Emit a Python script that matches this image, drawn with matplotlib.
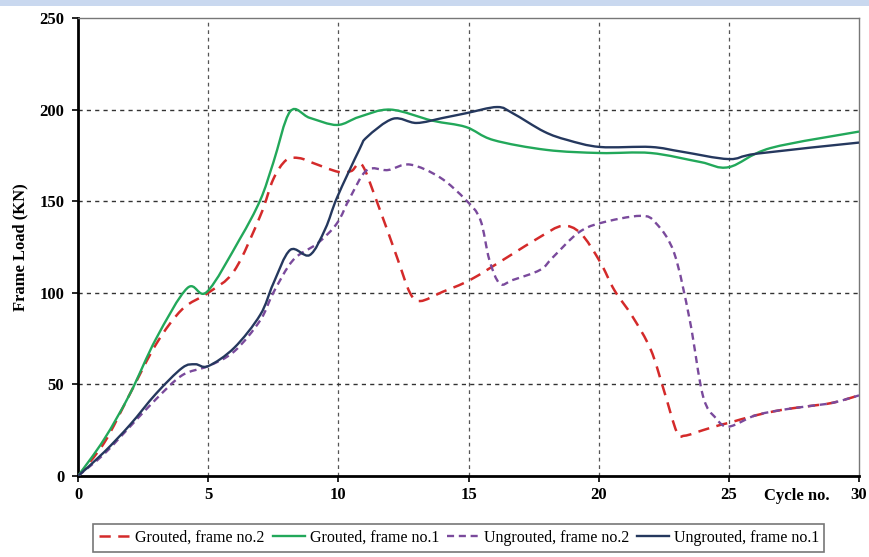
import matplotlib
matplotlib.use("Agg")
import matplotlib.pyplot as plt
from matplotlib.patches import Rectangle, PathPatch
from matplotlib.path import Path
from matplotlib.lines import Line2D

# Cycle number / frame load (kN) readings for each test specimen
grouted_2_x = [0, 1, 2, 3, 4, 5, 6, 7, 7.5, 8, 8.5, 9, 10, 10.5, 10.9, 11.5, 12.25, 12.75,
               13.15, 14.0, 15.06, 16.5, 17.75, 18.6, 19.3, 20.05, 20.6, 21.3, 22, 22.5,
               23, 23.3, 24, 24.7, 25, 26, 27, 28, 29, 30]
grouted_2_y = [0, 18, 45, 72, 91, 100, 112, 142, 162, 172.5, 173.5, 171, 166, 166.5, 170,
               149, 119.5, 100, 95.5, 100.5, 107, 119.5, 130.5, 136.5, 132.6, 117, 101.5,
               87, 69, 47, 24, 22, 25, 28, 29, 33, 36, 38, 40, 44]

grouted_1_x = [0, 1, 2, 3, 4.2, 4.95, 6.2, 7.0, 7.5, 8.15, 8.9, 9.95, 10.8, 12, 13.6, 14.9,
               15.95, 18, 20.05, 22, 23.9, 25, 26.6, 30]
grouted_1_y = [0, 20, 45, 75, 102.6, 100.5, 129, 150.6, 171, 199, 195.5, 191.6, 196, 200,
               194, 190.5, 183.4, 178, 176.3, 176.3, 171.4, 168.6, 179, 188]

ungrouted_2_x = [0, 1, 2, 3, 4, 5, 6, 7, 7.5, 8.27, 9.2, 9.95, 10.45, 11.1, 11.9, 12.75,
                 13.9, 14.9, 15.45, 15.8, 16.2, 16.7, 17.75, 18.25, 19.2, 20.05, 21.6, 22.2,
                 22.9, 23.5, 24, 24.5, 25, 26, 27, 28, 29, 30]
ungrouted_2_y = [0, 12, 27, 42, 55, 60, 68, 85, 100, 118, 127, 138, 152, 167, 167, 170,
                 163, 150.6, 140, 118, 105, 107, 112.5, 119.5, 132.6, 138, 142, 138,
                 121.7, 85, 44, 31.6, 27, 33, 36, 38, 40, 44]

ungrouted_1_x = [0, 1, 2, 3, 4, 4.5, 5, 6, 7, 7.5, 8.15, 8.9, 9.5, 9.95, 10.8, 11.1, 12.1,
                 13.0, 14.0, 14.9, 16.1, 16.7, 17.9, 18.8, 20.05, 22, 23.2, 25, 26.1, 30]
ungrouted_1_y = [0, 13, 28, 45, 59, 61, 60, 70, 88, 105, 123.4, 120.6, 135, 152, 178, 185,
                 195, 192.7, 195.4, 198, 201.4, 198, 188, 183.4, 179.6, 179.6, 177, 173,
                 176, 182]

series_labels = ["Grouted, frame no.2", "Grouted, frame no.1",
                 "Ungrouted, frame no.2", "Ungrouted, frame no.1"]
x_ticks = [0, 5, 10, 15, 20, 25, 30]
y_ticks = [0, 50, 100, 150, 200, 250]


def smooth_path(xs, ys):
    """Bezier path through every reading (spreadsheet-style smoothed line)."""
    pts = list(zip(xs, ys))
    verts = [pts[0]]
    codes = [Path.MOVETO]
    n = len(pts)
    for i in range(n - 1):
        p0 = pts[i - 1] if i > 0 else pts[i]
        p1 = pts[i]
        p2 = pts[i + 1]
        p3 = pts[i + 2] if i + 2 < n else pts[i + 1]
        c1 = (p1[0] + (p2[0] - p0[0]) / 6.0, p1[1] + (p2[1] - p0[1]) / 6.0)
        c2 = (p2[0] - (p3[0] - p1[0]) / 6.0, p2[1] - (p3[1] - p1[1]) / 6.0)
        verts += [c1, c2, p2]
        codes += [Path.CURVE4] * 3
    return Path(verts, codes)


plt.rcParams["font.family"] = ["Liberation Serif", "DejaVu Serif"]

fig = plt.figure(figsize=(8.69, 5.57), dpi=100)
fig.patch.set_facecolor("white")
# pale blue banner strip along the top edge
fig.add_artist(Rectangle((0, 0.989), 1, 0.011, transform=fig.transFigure,
                         facecolor="#c9d8ef", edgecolor="none"))

ax = fig.add_axes([0.0898, 0.1454, 0.8987, 0.8223])

styles = [
    (grouted_2_x, grouted_2_y, dict(color="#d42a2a", lw=1.8, ls=(0, (4.5, 3)))),
    (grouted_1_x, grouted_1_y, dict(color="#22a85a", lw=1.7, ls="-")),
    (ungrouted_2_x, ungrouted_2_y, dict(color="#7a4a9c", lw=1.7, ls=(0, (3, 2)))),
    (ungrouted_1_x, ungrouted_1_y, dict(color="#25385e", lw=1.7, ls="-")),
]
handles = []
for (xs, ys, st), lab in zip(styles, series_labels):
    patch = PathPatch(smooth_path(xs, ys), fill=False, edgecolor=st["color"],
                      linewidth=st["lw"], linestyle=st["ls"], zorder=3,
                      capstyle="butt", joinstyle="round")
    ax.add_patch(patch)
    handles.append(Line2D([], [], color=st["color"], lw=st["lw"], ls=st["ls"], label=lab))

ax.set_xlim(0, 30)
ax.set_ylim(0, 250)
ax.set_xticks(x_ticks)
ax.set_yticks(y_ticks)
ax.set_xticklabels([str(t) for t in x_ticks], fontsize=12, fontweight="bold")
ax.set_yticklabels([str(t) for t in y_ticks], fontsize=12, fontweight="bold")
ax.tick_params(axis="x", direction="out", length=4, width=1.2, color="black", pad=4)
ax.tick_params(axis="y", direction="out", length=4, width=1.2, color="black", pad=6)

# dashed grid at interior ticks only
for gx in x_ticks[1:-1]:
    ax.axvline(gx, color="#555555", lw=0.9, ls=(0, (3, 3)), zorder=1)
for gy in y_ticks[1:-1]:
    ax.axhline(gy, color="#333333", lw=1.0, ls=(0, (3, 3)), zorder=1)

ax.spines["left"].set_linewidth(2.0)
ax.spines["bottom"].set_linewidth(2.0)
ax.spines["left"].set_color("black")
ax.spines["bottom"].set_color("black")
ax.spines["top"].set_color("#777777")
ax.spines["right"].set_color("#777777")
ax.spines["top"].set_linewidth(1.0)
ax.spines["right"].set_linewidth(1.0)

ax.set_ylabel("Frame Load (KN)", fontsize=12, fontweight="bold", labelpad=8)
ax.text(27.6, -6.5, "Cycle no.", fontsize=12, fontweight="bold", ha="center", va="top")

leg = fig.legend(handles=handles, loc="center", bbox_to_anchor=(0.528, 0.034), ncol=4,
                 fontsize=11.5, frameon=True, fancybox=False, edgecolor="#555555",
                 handlelength=2.0, handletextpad=0.3, columnspacing=0.5, borderpad=0.35)
leg.get_frame().set_linewidth(1.2)

fig.savefig("out.png", dpi=100)
